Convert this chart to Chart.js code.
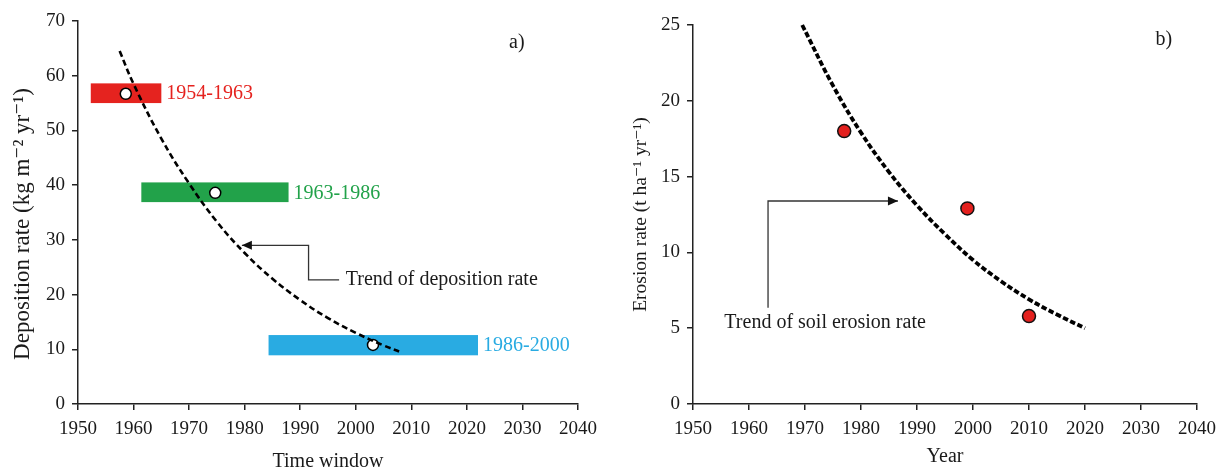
<!DOCTYPE html>
<html>
<head>
<meta charset="utf-8">
<script src="https://cdn.jsdelivr.net/npm/chart.js@4"></script>
<style>
  body { margin: 0; background: #fff; }
  .panel { position: absolute; top: 0; }
</style>
</head>
<body>
<canvas id="chartA" class="panel" style="left:0" width="615" height="474"></canvas>
<canvas id="chartB" class="panel" style="left:615px" width="615" height="474"></canvas>
<script>
// --- Panel a) deposition rate per time window ---
const windowLabels = ['1954-1963', '1963-1986', '1986-2000'];
const windowColors = ['#e5231f', '#22a24a', '#29abe2'];
const windowStart = [1952.3, 1961.4, 1984.3];
const windowEnd = [1965.0, 1987.9, 2022.0];
const windowLow = [55.0, 36.9, 8.9];
const windowHigh = [58.6, 40.5, 12.6];
const windowPointYear = [1958.6, 1974.7, 2003.1];
const windowPointRate = [56.7, 38.6, 10.8];

const depositionTrendYears = [1957.5, 1960, 1965, 1970, 1975, 1980, 1985, 1990, 1995, 2000, 2005, 2007.8];
const depositionTrend = [64.5, 58.5, 48.5, 40.3, 33.3, 27.6, 22.9, 19.0, 15.7, 13.0, 10.7, 9.6];

// --- Panel b) soil erosion rate ---
const erosionYears = [1977, 1999, 2010];
const erosionRates = [18.0, 12.9, 5.8];
const erosionTrendYears = [1969.5, 1975, 1980, 1985, 1990, 1995, 2000, 2005, 2010, 2015, 2020];
const erosionTrend = [25.0, 21.0, 17.9, 15.3, 13.1, 11.2, 9.5, 8.1, 6.9, 5.9, 5.0];

const yearTicks = [1950, 1960, 1970, 1980, 1990, 2000, 2010, 2020, 2030, 2040];

const serif = "'Liberation Serif', 'Times New Roman', 'DejaVu Serif', serif";
const ink = '#1a1a1a';

function pts(xs, ys) {
    return xs.map((x, i) => ({ x: x, y: ys[i] }));
}

// window bars, text labels and arrows
const notesPlugin = {
    id: 'notes',
    beforeDatasetsDraw(chart, args, opts) {
        const ctx = chart.ctx;
        const xs = chart.scales.x, ys = chart.scales.y;
        (opts.bars || []).forEach(b => {
            const x0 = xs.getPixelForValue(b.start), x1 = xs.getPixelForValue(b.end);
            const y0 = ys.getPixelForValue(b.high), y1 = ys.getPixelForValue(b.low);
            ctx.save();
            ctx.fillStyle = b.color;
            ctx.fillRect(x0, y0, x1 - x0, y1 - y0);
            ctx.font = '20px ' + serif;
            ctx.textBaseline = 'middle';
            ctx.textAlign = 'left';
            ctx.fillText(b.label, x1 + 5, (y0 + y1) / 2 + 1);
            ctx.restore();
        });
    },
    afterDatasetsDraw(chart, args, opts) {
        const ctx = chart.ctx;
        const xs = chart.scales.x, ys = chart.scales.y;
        const px = p => [xs.getPixelForValue(p[0]), ys.getPixelForValue(p[1])];
        (opts.arrows || []).forEach(a => {
            const path = a.path.map(px);
            ctx.save();
            ctx.strokeStyle = '#333';
            ctx.fillStyle = '#111';
            ctx.lineWidth = 1.3;
            ctx.beginPath();
            path.forEach((p, i) => i ? ctx.lineTo(p[0], p[1]) : ctx.moveTo(p[0], p[1]));
            ctx.stroke();
            // arrow head at the last point
            const [hx, hy] = path[path.length - 1];
            const [px2, py2] = path[path.length - 2];
            const ang = Math.atan2(hy - py2, hx - px2);
            ctx.beginPath();
            ctx.moveTo(hx, hy);
            ctx.lineTo(hx - 10 * Math.cos(ang) + 4.5 * Math.sin(ang), hy - 10 * Math.sin(ang) - 4.5 * Math.cos(ang));
            ctx.lineTo(hx - 10 * Math.cos(ang) - 4.5 * Math.sin(ang), hy - 10 * Math.sin(ang) + 4.5 * Math.cos(ang));
            ctx.closePath();
            ctx.fill();
            ctx.restore();
        });
        (opts.texts || []).forEach(t => {
            const [x, y] = px(t.at);
            ctx.save();
            ctx.font = '20px ' + serif;
            ctx.fillStyle = ink;
            ctx.textBaseline = 'middle';
            ctx.textAlign = 'left';
            ctx.fillText(t.text, x, y);
            ctx.restore();
        });
    }
};

function axes(yMax, yStep, yTitle, yTitleSize, yTitlePad, xTitle, xTitlePad) {
    const tickFont = { family: serif, size: 19 };
    const grid = { drawOnChartArea: false, drawTicks: true, tickLength: 6, color: '#222', lineWidth: 1.5 };
    const border = { display: true, color: '#222', width: 1.5 };
    return {
        x: {
            type: 'linear', min: 1950, max: 2040,
            afterBuildTicks: s => { s.ticks = yearTicks.map(v => ({ value: v })); },
            afterFit: s => { s.height = 70; },
            grid: grid, border: border,
            ticks: { font: tickFont, color: ink, padding: 8, maxRotation: 0, callback: v => String(v) },
            title: { display: true, text: xTitle, font: { family: serif, size: 20 }, color: ink, padding: { top: 0, bottom: xTitlePad } }
        },
        y: {
            min: 0, max: yMax,
            afterFit: s => { s.width = 78; },
            grid: grid, border: border,
            ticks: { font: tickFont, color: ink, padding: 7, stepSize: yStep },
            title: { display: true, text: yTitle, font: { family: serif, size: yTitleSize }, color: ink, padding: { top: yTitlePad, bottom: 0 } }
        }
    };
}

new Chart(document.getElementById('chartA'), {
    type: 'scatter',
    data: {
        datasets: [{
            type: 'line',
            data: pts(depositionTrendYears, depositionTrend),
            borderColor: '#000', borderWidth: 2.6, borderDash: [6, 3.5],
            pointRadius: 0, fill: false, tension: 0.4, clip: false
        }, {
            data: pts(windowPointYear, windowPointRate),
            pointRadius: 5.5, pointBackgroundColor: '#fff', pointBorderColor: '#000', pointBorderWidth: 1.5
        }]
    },
    options: {
        responsive: false,
        animation: false,
        layout: { padding: { top: 21, right: 37, left: 0, bottom: 0 } },
        scales: axes(70, 10, 'Deposition rate (kg m⁻² yr⁻¹)    ', 23, 9, 'Time window', 0),
        plugins: {
            legend: { display: false },
            tooltip: { enabled: false },
            notes: {
                bars: windowLabels.map((label, i) => ({
                    label: label, color: windowColors[i],
                    start: windowStart[i], end: windowEnd[i], low: windowLow[i], high: windowHigh[i]
                })),
                arrows: [{ path: [[1997.0, 22.7], [1991.5, 22.7], [1991.5, 29.0], [1979.5, 29.0]] }],
                texts: [
                    { text: 'Trend of deposition rate', at: [1998.2, 22.7] },
                    { text: 'a)', at: [2027.6, 66.0] }
                ]
            }
        }
    },
    plugins: [notesPlugin]
});

new Chart(document.getElementById('chartB'), {
    type: 'scatter',
    data: {
        datasets: [{
            type: 'line',
            data: pts(erosionTrendYears, erosionTrend),
            borderColor: '#000', borderWidth: 3.8, borderDash: [5.5, 2.5],
            pointRadius: 0, fill: false, tension: 0.4, clip: false
        }, {
            data: pts(erosionYears, erosionRates),
            pointRadius: 6.5, pointBackgroundColor: '#e3201e', pointBorderColor: '#111', pointBorderWidth: 1.5
        }]
    },
    options: {
        responsive: false,
        animation: false,
        layout: { padding: { top: 25, right: 33, left: 0, bottom: 0 } },
        scales: axes(25, 5, 'Erosion rate (t ha⁻¹ yr⁻¹)', 19.5, 14, 'Year', 5),
        plugins: {
            legend: { display: false },
            tooltip: { enabled: false },
            notes: {
                arrows: [{ path: [[1963.4, 6.35], [1963.4, 13.39], [1986.6, 13.39]] }],
                texts: [
                    { text: 'Trend of soil erosion rate', at: [1955.6, 5.34] },
                    { text: 'b)', at: [2032.6, 24.0] }
                ]
            }
        }
    },
    plugins: [notesPlugin]
});
</script>
</body>
</html>
